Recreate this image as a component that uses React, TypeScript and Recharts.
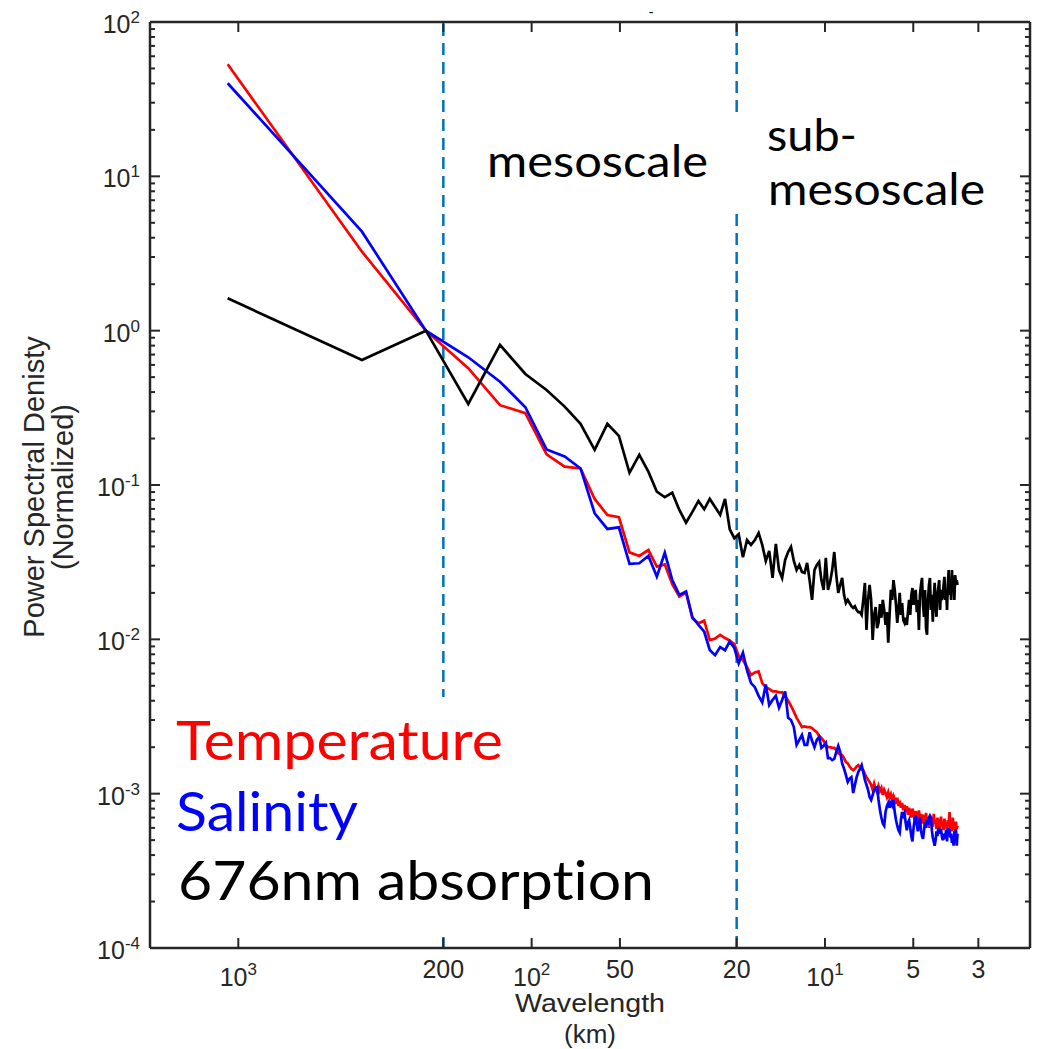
import React from 'react';
import { LineChart, Line, XAxis, YAxis, ReferenceLine } from 'recharts';

// Spectral estimates sit on an evenly spaced wavenumber grid (cycles per km)
const K0 = 0.00092;
const DK = 0.00172;

// Normalized power spectral density, one value per wavenumber bin
const temperature = [
  53.2, 3.25, 1.0, 0.571, 0.329, 0.292, 0.158, 0.1315, 0.128, 0.0812,
  0.0639, 0.0618, 0.0366, 0.0347, 0.0379, 0.0296, 0.0306, 0.0228, 0.0189, 0.0201,
  0.0137, 0.0127, 0.0132, 0.0099,
  0.0101, 0.0107, 0.0102, 0.0098, 0.0093, 0.0078, 0.00735, 0.0066, 0.00587, 0.0061,
  0.0062, 0.0052, 0.0049, 0.00477, 0.0046, 0.0046, 0.00453, 0.00453, 0.0043, 0.004,
  0.0037, 0.0034, 0.0031, 0.0029, 0.0027, 0.00273, 0.0027, 0.0027, 0.00266, 0.00257,
  0.0025, 0.00237, 0.0023, 0.0022, 0.00207, 0.002, 0.002, 0.00198, 0.00198, 0.00192,
  0.00183, 0.0018, 0.00178, 0.0017, 0.0016, 0.00157, 0.0015, 0.00145, 0.00142, 0.00145,
  0.0015, 0.00153, 0.00148, 0.00144, 0.00142, 0.00134, 0.00128, 0.00123, 0.00119,
  0.00114, 0.00106, 0.00116, 0.00107, 0.00102, 0.00112, 0.00104, 0.00109, 0.00098, 0.00106,
  0.00101, 0.00095, 0.00102, 0.00094, 0.00099, 0.00091, 0.00097, 0.00092, 0.00086, 0.00094,
  0.00083, 0.0009, 0.00081, 0.00087, 0.00078, 0.000845, 0.00076, 0.00083, 0.00073, 0.00081,
  0.00076, 0.0007, 0.0008, 0.00075, 0.000675, 0.00077, 0.00072, 0.00065, 0.00078, 0.0007,
  0.00074, 0.00064, 0.00073, 0.000675, 0.00062, 0.00075, 0.00066, 0.0007, 0.0006, 0.00072,
  0.00065, 0.00069, 0.00061, 0.00074, 0.00064, 0.000675, 0.00059, 0.0007, 0.00063, 0.00065,
  0.00058, 0.00071, 0.00062, 0.00066, 0.00058, 0.00069, 0.00061, 0.00064, 0.00057, 0.000675,
  0.00062, 0.00076, 0.00059, 0.00065, 0.00057, 0.0007, 0.00061, 0.00064, 0.00056, 0.00066,
  0.00059, 0.00062,
];

const salinity = [
  40.1, 4.38, 1.0, 0.6725, 0.467, 0.319, 0.17, 0.153, 0.128, 0.0656,
  0.0519, 0.0532, 0.0308, 0.0311, 0.0347, 0.0255, 0.0364, 0.0242, 0.0194, 0.0204,
  0.0139, 0.0124, 0.0112, 0.00853,
  0.0079, 0.0089, 0.0085, 0.0097, 0.0088, 0.007, 0.0082, 0.0063, 0.0052, 0.0049,
  0.0043, 0.0039, 0.0051, 0.00375, 0.00405, 0.0043, 0.0036, 0.00405, 0.0046, 0.0031,
  0.003, 0.0027, 0.00207, 0.00223, 0.0024, 0.00207, 0.00207, 0.0025, 0.0022, 0.002,
  0.00223, 0.00233, 0.00198, 0.00204, 0.00213, 0.0017, 0.0017, 0.00165, 0.00168, 0.00186,
  0.00204, 0.00186, 0.00157, 0.00145, 0.00132, 0.00119, 0.00125, 0.00128, 0.00101, 0.00114,
  0.00128, 0.00138, 0.00145, 0.00153, 0.00138, 0.00123, 0.00114, 0.00106, 0.00095,
  0.00091, 0.00098, 0.00106, 0.00109, 0.0011, 0.00091, 0.00078, 0.0007, 0.00064, 0.00062,
  0.00076, 0.00083, 0.00087, 0.00081, 0.0009, 0.000845, 0.00091, 0.00076, 0.000675, 0.00062,
  0.00058, 0.00056, 0.000675, 0.00076, 0.00072, 0.00075, 0.00065, 0.00058, 0.00065, 0.000675,
  0.0006, 0.00053, 0.00049, 0.0006, 0.000675, 0.00072, 0.00063, 0.00057, 0.00062, 0.0007,
  0.00058, 0.00053, 0.00051, 0.00058, 0.00065, 0.0006, 0.000675, 0.00063, 0.0007, 0.00072,
  0.0007, 0.00058, 0.00052, 0.00049, 0.00046, 0.0005, 0.00057, 0.00053, 0.0006, 0.00058,
  0.00055, 0.00059, 0.00053, 0.0005, 0.00055, 0.00052, 0.00053, 0.00058, 0.00049, 0.0006,
  0.00057, 0.00059, 0.00052, 0.00055, 0.00048, 0.00053, 0.00046, 0.00057, 0.00052, 0.00059,
  0.00046, 0.00055,
];

const absorption = [
  1.62, 0.646, 1.0, 0.335, 0.808, 0.524, 0.413, 0.322, 0.249, 0.169,
  0.249, 0.208, 0.12, 0.157, 0.122, 0.0905, 0.0833, 0.0892, 0.0689, 0.057,
  0.0669, 0.0788, 0.0696, 0.0812, 0.0721, 0.064, 0.0812, 0.0517, 0.0452, 0.048,
  0.034, 0.044,
  0.0409, 0.044, 0.0489, 0.0409, 0.0322, 0.0374, 0.025, 0.0415, 0.0281, 0.025,
  0.0327, 0.0368, 0.0397, 0.0322, 0.0281, 0.0303, 0.0273, 0.0269, 0.0313, 0.0242,
  0.018, 0.0281, 0.0303, 0.0317, 0.0242, 0.0209, 0.0337, 0.0209, 0.0235, 0.0281,
  0.0368, 0.0261, 0.02, 0.0225, 0.025, 0.0194, 0.0172, 0.018, 0.0172, 0.0164,
  0.016, 0.0164, 0.0155, 0.015, 0.015, 0.0144, 0.018, 0.0232, 0.0115, 0.018,
  0.0225,
  0.018, 0.0099, 0.0144, 0.0162, 0.0118, 0.0128, 0.0169, 0.0138, 0.018, 0.0155,
  0.0124, 0.015, 0.0095, 0.0144, 0.0209, 0.018, 0.0242, 0.0209, 0.0167, 0.0128,
  0.0155, 0.02, 0.0144, 0.0172, 0.0133, 0.0128, 0.0138, 0.0124, 0.015, 0.018,
  0.0144, 0.0194, 0.0215, 0.0167, 0.0194, 0.0209, 0.015, 0.018, 0.0115, 0.0194,
  0.0225, 0.025, 0.0167, 0.014, 0.0209, 0.0118, 0.0107, 0.018, 0.0225, 0.025,
  0.0155, 0.0194, 0.013, 0.018, 0.0232, 0.0167, 0.014, 0.0194, 0.0215, 0.0242,
  0.0155, 0.0209, 0.018, 0.0188, 0.0225, 0.0254, 0.018, 0.0209, 0.0155, 0.0225,
  0.0281, 0.0194, 0.0242, 0.018, 0.0281, 0.0209, 0.0254, 0.018, 0.0261, 0.0232,
  0.0242, 0.0225,
];

const X_TICKS = [1000, 200, 100, 50, 20, 10, 5, 3];
const Y_DECADES = [1e-4, 1e-3, 1e-2, 1e-1, 1, 10, 100];
const SCALE_BREAKS = [200, 20];

const rows = temperature.map((t, i) => ({
  wl: 1 / (K0 + i * DK),
  t,
  s: salinity[i],
  a: absorption[i],
}));

// decades plus the 2..9 minor ticks in between
const yTicks = Y_DECADES.flatMap((d, i) =>
  i === Y_DECADES.length - 1 ? [d] : [d, 2 * d, 3 * d, 4 * d, 5 * d, 6 * d, 7 * d, 8 * d, 9 * d]
);

const AXIS = '#262626';
const SANS = '"Liberation Sans", Arial, Helvetica, sans-serif';
const LABEL_FONT = 'Lato, "Open Sans", sans-serif';
const BREAK_BLUE = '#0072BD';
const noLig = { fontVariantLigatures: 'none' as const, fontFeatureSettings: '"liga" 0, "clig" 0' };

const isDecade = (v: number) => Math.abs(Math.log10(v) - Math.round(Math.log10(v))) < 1e-6;
const expOf = (v: number) => Math.round(Math.log10(v));

const LeftTick = ({ x, y, payload }: any) => {
  const major = isDecade(payload.value);
  return (
    <g>
      <line x1={x} x2={x + (major ? 10 : 5)} y1={y} y2={y} stroke={AXIS} strokeWidth={2} />
      {major && (
        <text x={x - 10} y={y + 11} textAnchor="end" fontFamily={SANS} fontSize={25} fill={AXIS}>
          10<tspan dy={-10} fontSize={17}>{expOf(payload.value)}</tspan>
        </text>
      )}
    </g>
  );
};

const RightTick = ({ x, y, payload }: any) => {
  const major = isDecade(payload.value);
  return <line x1={x} x2={x - (major ? 10 : 5)} y1={y} y2={y} stroke={AXIS} strokeWidth={2} />;
};

const BottomTick = ({ x, y, payload }: any) => {
  const v = payload.value;
  return (
    <g>
      <line x1={x} x2={x} y1={y} y2={y - 10} stroke={AXIS} strokeWidth={2} />
      {isDecade(v) ? (
        <text x={x} y={y + 38} textAnchor="middle" fontFamily={SANS} fontSize={25} fill={AXIS}>
          10<tspan dy={-11} fontSize={17}>{expOf(v)}</tspan>
        </text>
      ) : (
        <text x={x} y={y + 30} textAnchor="middle" fontFamily={SANS} fontSize={25} fill={AXIS}>
          {v}
        </text>
      )}
    </g>
  );
};

const TopTick = ({ x, y }: any) => (
  <line x1={x} x2={x} y1={y} y2={y + 10} stroke={AXIS} strokeWidth={2} />
);

function Annotations() {
  return (
    <svg
      width={1046}
      height={1049}
      style={{ position: 'absolute', left: 0, top: 0, pointerEvents: 'none' }}
    >
      {/* text boxes with white backgrounds */}
      <rect x={161} y={697} width={510} height={240} fill="#fff" />
      <rect x={722} y={118} width={283} height={94} fill="#fff" />

      <text x={651} y={17} textAnchor="middle" fontFamily={SANS} fontSize={14} fill="#000">-</text>

      <g style={noLig}>
        <text x={487} y={177} fontFamily={LABEL_FONT} fontSize={45} textLength={221} lengthAdjust="spacingAndGlyphs" fill="#000">mesoscale</text>
        <text x={767} y={151} fontFamily={LABEL_FONT} fontSize={45} textLength={90} lengthAdjust="spacingAndGlyphs" fill="#000">sub-</text>
        <text x={768} y={205} fontFamily={LABEL_FONT} fontSize={45} textLength={217} lengthAdjust="spacingAndGlyphs" fill="#000">mesoscale</text>

        <text x={176} y={760} fontFamily={LABEL_FONT} fontSize={54} textLength={327} lengthAdjust="spacingAndGlyphs" fill="#ff0000">Temperature</text>
        <text x={176} y={831} fontFamily={LABEL_FONT} fontSize={54} textLength={182} lengthAdjust="spacingAndGlyphs" fill="#0000ff">Salinity</text>
        <text x={178} y={900} fontFamily={LABEL_FONT} fontSize={54} textLength={476} lengthAdjust="spacingAndGlyphs" fill="#000">676nm absorption</text>
      </g>

      <text x={590} y={1012} textAnchor="middle" fontFamily={SANS} fontSize={26} textLength={150} lengthAdjust="spacingAndGlyphs" fill={AXIS}>Wavelength</text>
      <text x={590} y={1043} textAnchor="middle" fontFamily={SANS} fontSize={26} fill={AXIS}>(km)</text>

      <g transform="translate(44 487) rotate(-90)">
        <text x={0} y={0} textAnchor="middle" fontFamily={SANS} fontSize={29} fill={AXIS}>Power Spectral Denisty</text>
      </g>
      <g transform="translate(73 487) rotate(-90)">
        <text x={0} y={0} textAnchor="middle" fontFamily={SANS} fontSize={29} fill={AXIS}>(Normalized)</text>
      </g>
    </svg>
  );
}

export default function App() {
  return (
    <div style={{ position: 'absolute', left: 0, top: 0, width: 1046, height: 1049, background: '#fff' }}>
      <LineChart
        width={1046}
        height={1049}
        data={rows}
        margin={{ top: 21, right: 15, bottom: 0, left: 0 }}
      >
        <XAxis
          xAxisId="bottom"
          dataKey="wl"
          type="number"
          scale="log"
          domain={[2, 2000]}
          allowDataOverflow
          reversed
          ticks={X_TICKS}
          interval={0}
          height={101}
          tickSize={0}
          tickMargin={0}
          tickLine={false}
          tick={<BottomTick />}
          axisLine={{ stroke: AXIS, strokeWidth: 2.5 }}
        />
        <XAxis
          xAxisId="top"
          orientation="top"
          dataKey="wl"
          type="number"
          scale="log"
          domain={[2, 2000]}
          allowDataOverflow
          reversed
          ticks={X_TICKS}
          interval={0}
          height={1}
          tickSize={0}
          tickMargin={0}
          tickLine={false}
          tick={<TopTick />}
          axisLine={{ stroke: AXIS, strokeWidth: 2.5 }}
        />
        <YAxis
          yAxisId="left"
          type="number"
          scale="log"
          domain={[1e-4, 100]}
          allowDataOverflow
          ticks={yTicks}
          interval={0}
          width={150}
          tickSize={0}
          tickMargin={0}
          tickLine={false}
          tick={<LeftTick />}
          axisLine={{ stroke: AXIS, strokeWidth: 2.5 }}
        />
        <YAxis
          yAxisId="right"
          orientation="right"
          type="number"
          scale="log"
          domain={[1e-4, 100]}
          allowDataOverflow
          ticks={yTicks}
          interval={0}
          width={1}
          tickSize={0}
          tickMargin={0}
          tickLine={false}
          tick={<RightTick />}
          axisLine={{ stroke: AXIS, strokeWidth: 2.5 }}
        />
        {SCALE_BREAKS.map((wl) => (
          <ReferenceLine
            key={wl}
            x={wl}
            xAxisId="bottom"
            yAxisId="left"
            stroke={BREAK_BLUE}
            strokeWidth={2.5}
            strokeDasharray="12 7"
          />
        ))}
        <Line xAxisId="bottom" yAxisId="left" type="linear" dataKey="t" stroke="#ff0000" strokeWidth={2.7} dot={false} activeDot={false} isAnimationActive={false} />
        <Line xAxisId="bottom" yAxisId="left" type="linear" dataKey="s" stroke="#0000ff" strokeWidth={2.7} dot={false} activeDot={false} isAnimationActive={false} />
        <Line xAxisId="bottom" yAxisId="left" type="linear" dataKey="a" stroke="#000000" strokeWidth={2.7} dot={false} activeDot={false} isAnimationActive={false} />
      </LineChart>
      <Annotations />
    </div>
  );
}
